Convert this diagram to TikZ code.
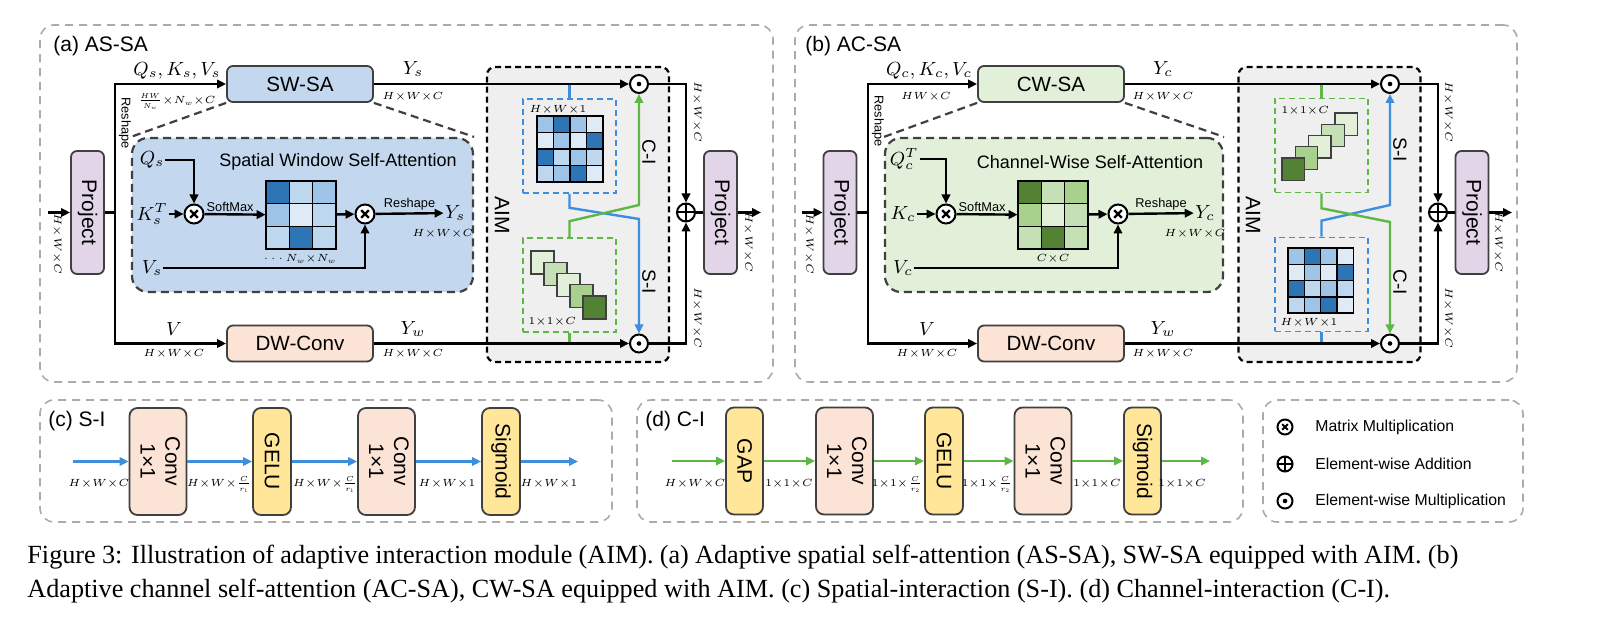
\RequirePackage{fix-cm}
\documentclass[tikz,border=0pt]{standalone}
\usepackage{graphicx}
\usepackage{fontspec}
\setmainfont{Liberation Sans}
\newfontfamily\capfont{Liberation Serif}
\usetikzlibrary{arrows.meta,calc}
\definecolor{pgray}{HTML}{ABABAB}
\definecolor{bgray}{HTML}{404040}
\definecolor{projfill}{HTML}{E1D5E7}
\definecolor{saBlue}{HTML}{C3D8EF}
\definecolor{saGreen}{HTML}{E2F0D9}
\definecolor{peach}{HTML}{FBE3D6}
\definecolor{yel}{HTML}{FFE699}
\definecolor{aimfill}{HTML}{EFEFEF}
\definecolor{lnBlue}{HTML}{3E8EDE}
\definecolor{lnGreen}{HTML}{5CB744}
\definecolor{bd}{HTML}{2E75B6}
\definecolor{bm}{HTML}{9DC3E6}
\definecolor{bl}{HTML}{BDD7EE}
\definecolor{bv}{HTML}{DEEBF7}
\definecolor{gd}{HTML}{548235}
\definecolor{gm}{HTML}{A9D18E}
\definecolor{gl}{HTML}{C5E0B4}
\definecolor{gv}{HTML}{E2F0D9}
\newcommand\HWC{$H{\times}W{\times}C$}
\begin{document}
\begin{tikzpicture}[x=0.5pt,y=-0.5pt,
 panel/.style={draw=pgray,line width=0.8pt,dash pattern=on 4pt off 3pt,rounded corners=7pt,inner sep=0pt},
 bx/.style={draw=bgray,line width=0.9pt,rounded corners=3pt,inner sep=0pt,align=center},
 proj/.style={bx,fill=projfill,minimum width=16.5pt,minimum height=61.5pt,font=\fontsize{10.5}{12}\selectfont},
 sabox/.style={bx,minimum width=73pt,minimum height=18pt,font=\fontsize{10.3}{12}\selectfont},
 conv/.style={bx,fill=peach,minimum width=28.5pt,minimum height=53.5pt,rounded corners=4pt,font=\fontsize{10.5}{12.5}\selectfont},
 yb/.style={bx,fill=yel,minimum width=19pt,minimum height=53.5pt,rounded corners=4pt,font=\fontsize{10.5}{12.5}\selectfont},
 flow/.style={line width=1.2pt,-{Triangle[length=4.5pt,width=4.2pt]}},
 wire/.style={line width=1.2pt},
 bflow/.style={flow,draw=lnBlue},
 gflow/.style={flow,draw=lnGreen},
 bwire/.style={wire,draw=lnBlue},
 gwire/.style={wire,draw=lnGreen},
 dim/.style={inner sep=0pt,font=\fontsize{5.2}{6}\selectfont},
 lab/.style={inner sep=0.5pt,font=\fontsize{9.5}{11}\selectfont},
 smt/.style={inner sep=0pt,font=\fontsize{6.4}{7.5}\selectfont},
 ttl/.style={inner sep=0pt,font=\fontsize{10.5}{12}\selectfont},
 lbl/.style={inner sep=0pt,font=\fontsize{9.5}{11}\selectfont},
 leg/.style={inner sep=0pt,font=\fontsize{7.9}{9}\selectfont},
 ibox/.style={draw=bgray,fill=#1,line width=1.1pt,dash pattern=on 4pt off 2.5pt,rounded corners=8pt,minimum width=170.5pt,minimum height=77pt,inner sep=0pt},
 aim/.style={draw=black,fill=aimfill,line width=1.1pt,dash pattern=on 3pt off 2pt,rounded corners=4pt,minimum width=91pt,minimum height=147.5pt,inner sep=0pt},
 mapbox/.style={draw=#1,line width=0.8pt,dash pattern=on 3pt off 2pt,minimum width=46.5pt,minimum height=47pt,inner sep=0pt},
 conn/.style={draw=bgray,line width=1.1pt,dash pattern=on 4pt off 2.5pt},
 mtx/.style={inner sep=0pt,minimum width=35pt,minimum height=34pt},
 sym/.style={circle,draw=black,fill=white,line width=1pt,inner sep=0pt,minimum size=#1},
 otm/.style={sym=9.5pt,path picture={\draw[black,line width=1.1pt] ([shift={(-1.9pt,-1.9pt)}]path picture bounding box.center) -- ([shift={(1.9pt,1.9pt)}]path picture bounding box.center) ([shift={(-1.9pt,1.9pt)}]path picture bounding box.center) -- ([shift={(1.9pt,-1.9pt)}]path picture bounding box.center);}},
 otmS/.style={sym=7.5pt,path picture={\draw[black,line width=1pt] ([shift={(-1.4pt,-1.4pt)}]path picture bounding box.center) -- ([shift={(1.4pt,1.4pt)}]path picture bounding box.center) ([shift={(-1.4pt,1.4pt)}]path picture bounding box.center) -- ([shift={(1.4pt,-1.4pt)}]path picture bounding box.center);}},
 opl/.style={sym=#1,path picture={\draw[black,line width=1pt] ([xshift=-9pt]path picture bounding box.center) -- ([xshift=9pt]path picture bounding box.center) ([yshift=-9pt]path picture bounding box.center) -- ([yshift=9pt]path picture bounding box.center);}},
 opl/.default=9pt,
 odt/.style={sym=#1,path picture={\fill[black] (path picture bounding box.center) circle (1.15pt);}},
 odt/.default=9pt
]
\fill[white] (0,0) rectangle (1602,641);
\useasboundingbox (0,0) rectangle (1602,641);

% ---------- panels ----------
\node[panel,minimum width=366.5pt,minimum height=178.5pt] (pa) at (406.5,203.5) {};
\node[panel,minimum width=361pt,minimum height=178.5pt] (pb) at (1156,203.5) {};
\node[panel,minimum width=286pt,minimum height=61pt] (pc) at (326,461) {};
\node[panel,minimum width=303pt,minimum height=61pt] (pd) at (940,461) {};
\node[panel,minimum width=130pt,minimum height=61pt] (pl) at (1393,461) {};
\node[ttl,anchor=base west] (ta) at (53,52) {(a) AS-SA};
\node[ttl,anchor=base west] (tb) at (805,52) {(b) AC-SA};
\node[ttl,anchor=base west] (tc) at (48,427) {(c) S-I};
\node[ttl,anchor=base west] (td) at (645,427) {(d) C-I};

% ---------- AIM boxes and inner boxes ----------
\node[aim] (aima) at (578,214.5) {};
\node[aim] (aimb) at (1329.5,214.5) {};
\node[ibox=saBlue] (ixa) at (302.5,215) {};
\node[ibox=saGreen,minimum width=169pt] (ixb) at (1054,215) {};

% ================= panel (a) =================
\node[proj] (pa1) at (87.5,212.5) {\rotatebox{-90}{Project}};
\coordinate (ina) at (48,212.5);
\draw[flow] (ina) -- (pa1);
\node[dim] (dina) at (57,244) {\rotatebox{-90}{\HWC}};
\coordinate (bra) at (115,212.5);
\node[sabox,fill=saBlue] (swa) at (300,84) {SW-SA};
\node[sabox,fill=peach] (dwa) at (300,343.5) {DW-Conv};
\draw[conn] (swa.south west) -- (ixa.north west);
\draw[conn] (swa.south east) -- (ixa.north east);
\draw[wire] (pa1) -- (bra);
\draw[flow] (bra) |- (swa);
\draw[flow] (bra) |- (dwa);
\node[lab] (qkva) at (177,71) {$Q_s, K_s, V_s$};
\node[dim] (dqa) at (177,102) {$\frac{HW}{N_w}{\times}N_w{\times}C$};
\node[smt] (rsa) at (125,123) {\rotatebox{-90}{Reshape}};
\node[lab] (va) at (174,329) {$V$};
\node[dim] (dva) at (174,354) {\HWC};
\node[odt] (ota) at (639,84) {};
\node[odt] (oba) at (639,343.5) {};
\node[mapbox=lnBlue] (sba) at (569.5,146) {};
\node[mapbox=lnGreen] (cba) at (569.5,285) {};
\draw[bwire] (sba.north) -- (sba.north |- ota);
\draw[gwire] (cba.south) -- (cba.south |- oba);
\draw[flow] (swa) -- (ota);
\draw[flow] (dwa) -- (oba);
\node[lab] (ysa) at (413,69) {$Y_s$};
\node[dim] (dysa) at (413,97) {\HWC};
\node[lab] (ywa) at (413,329) {$Y_w$};
\node[dim] (dywa) at (413,354) {\HWC};
\node[opl] (opa) at (686,212.5) {};
\draw[flow] (ota) -| (opa);
\draw[flow] (oba) -| (opa);
\node[proj] (pa2) at (720.5,212.5) {\rotatebox{-90}{Project}};
\draw[wire] (opa) -- (pa2);
\coordinate (outa) at (761,212.5);
\draw[flow] (pa2) -- (outa);
\node[dim] (d1a) at (697,112) {\rotatebox{-90}{\HWC}};
\node[dim] (d2a) at (697,318) {\rotatebox{-90}{\HWC}};
\node[dim] (d3a) at (748,242) {\rotatebox{-90}{\HWC}};
% AIM (a)
\node[ttl] (aimta) at (502,215) {\rotatebox{-90}{AIM}};
\foreach \row [count=\r from 0] in {{bm,bd,bm,bv},{bv,bm,bv,bd},{bd,bl,bm,bl},{bl,bm,bd,bv}}
  \foreach \c [count=\k from 0] in \row
    \draw[line width=0.7pt,fill=\c] ({537+16.5*\k},{116+16.5*\r}) rectangle ++(16.5,16.5);
\foreach \c [count=\i from 0] in {gv,gl,gv,gm,gd}
  \draw[line width=0.7pt,draw=bgray,fill=\c] ({531+13*\i},{251+11.25*\i}) rectangle ++(23,23);
\node[dim,anchor=west] (hw1a) at (529,110) {$H{\times}W{\times}1$};
\node[dim,anchor=west] (c1a) at (528,322) {$1{\times}1{\times}C$};
\draw[bflow] (sba.south) -- ++(0,14) -- (oba |- 0,219) -- (oba.north);
\draw[gflow] (cba.north) -- ++(0,-16) -- (ota |- 0,205) -- (ota.south);
\node[lbl] (cia) at (649,152) {\rotatebox{-90}{C-I}};
\node[lbl] (sia) at (649,282) {\rotatebox{-90}{S-I}};
% inner (a)
\node[inner sep=0pt,font=\fontsize{9}{11}\selectfont] (tia) at (338,162) {Spatial Window Self-Attention};
\node[lab] (qsa) at (152,160) {$Q_s$};
\node[lab] (ksa) at (152,214) {$K_s^T$};
\node[lab] (vsa) at (152,268) {$V_s$};
\node[otm] (ma1) at (194,214) {};
\node[mtx] (mata) at (301,215) {};
\foreach \row [count=\r from 0] in {{bd,bl,bm},{bm,bv,bl},{bl,bd,bl}}
  \foreach \c [count=\k from 0] in \row
    \draw[line width=0.7pt,fill=\c] ({266+23.33*\k},{181+22.67*\r}) rectangle ++(23.33,22.67);
\node[otm] (ma2) at (365,214) {};
\node[lab] (yia) at (455,213) {$Y_s$};
\node[dim] (dyia) at (443,234) {\HWC};
\node[dim] (nna) at (300,259) {$\cdots N_w{\times}N_w$};
\draw[flow] (qsa) -| (ma1);
\draw[flow] (ksa) -- (ma1);
\draw[flow] (ma1) -- node[smt,above=1pt,pos=0.42] (sma) {SoftMax} (mata);
\draw[flow] (mata) -- (ma2);
\draw[flow] (vsa) -| (ma2);
\draw[flow] (ma2) -- node[smt,above=1pt] (rha) {Reshape} (yia);

% ================= panel (b) =================
\node[proj] (pb1) at (840,212.5) {\rotatebox{-90}{Project}};
\coordinate (inb) at (802,212.5);
\draw[flow] (inb) -- (pb1);
\node[dim] (dinb) at (809,244) {\rotatebox{-90}{\HWC}};
\coordinate (brb) at (868,212.5);
\node[sabox,fill=saGreen] (cwb) at (1051,84) {CW-SA};
\node[sabox,fill=peach] (dwb) at (1051,343.5) {DW-Conv};
\draw[conn] (cwb.south west) -- (ixb.north west);
\draw[conn] (cwb.south east) -- (ixb.north east);
\draw[wire] (pb1) -- (brb);
\draw[flow] (brb) |- (cwb);
\draw[flow] (brb) |- (dwb);
\node[lab] (qkvb) at (929,71) {$Q_c, K_c, V_c$};
\node[dim] (dqb) at (926,97) {$HW{\times}C$};
\node[smt] (rsb) at (878,121) {\rotatebox{-90}{Reshape}};
\node[lab] (vb) at (927,329) {$V$};
\node[dim] (dvb) at (927,354) {\HWC};
\node[odt] (otb) at (1390,84) {};
\node[odt] (obb) at (1390,343.5) {};
\node[mapbox=lnGreen] (cbb) at (1321.5,145.5) {};
\node[mapbox=lnBlue] (sbb) at (1321.5,284.5) {};
\draw[gwire] (cbb.north) -- (cbb.north |- otb);
\draw[bwire] (sbb.south) -- (sbb.south |- obb);
\draw[flow] (cwb) -- (otb);
\draw[flow] (dwb) -- (obb);
\node[lab] (ycb) at (1163,69) {$Y_c$};
\node[dim] (dycb) at (1163,97) {\HWC};
\node[lab] (ywb) at (1163,329) {$Y_w$};
\node[dim] (dywb) at (1163,354) {\HWC};
\node[opl] (opb) at (1438,212.5) {};
\draw[flow] (otb) -| (opb);
\draw[flow] (obb) -| (opb);
\node[proj] (pb2) at (1472,212.5) {\rotatebox{-90}{Project}};
\draw[wire] (opb) -- (pb2);
\coordinate (outb) at (1512,212.5);
\draw[flow] (pb2) -- (outb);
\node[dim] (d1b) at (1448,112) {\rotatebox{-90}{\HWC}};
\node[dim] (d2b) at (1448,318) {\rotatebox{-90}{\HWC}};
\node[dim] (d3b) at (1498,242) {\rotatebox{-90}{\HWC}};
% AIM (b)
\node[ttl] (aimtb) at (1253,215) {\rotatebox{-90}{AIM}};
\foreach \row [count=\r from 0] in {{bm,bd,bm,bv},{bv,bm,bv,bd},{bd,bl,bm,bl},{bl,bm,bd,bv}}
  \foreach \c [count=\k from 0] in \row
    \draw[line width=0.7pt,fill=\c] ({1288+16.3*\k},{248+16.3*\r}) rectangle ++(16.3,16.3);
\foreach \c [count=\i from 0] in {gv,gl,gv,gm,gd}
  \draw[line width=0.7pt,draw=bgray,fill=\c] ({1335-13.25*\i},{113+11.25*\i}) rectangle ++(22.5,22.5);
\node[dim,anchor=west] (c1b) at (1281,111) {$1{\times}1{\times}C$};
\node[dim,anchor=west] (hw1b) at (1280,323) {$H{\times}W{\times}1$};
\draw[bflow] (sbb.north) -- ++(0,-16) -- (otb |- 0,205) -- (otb.south);
\draw[gflow] (cbb.south) -- ++(0,15) -- (obb |- 0,222) -- (obb.north);
\node[lbl] (sib) at (1400,150) {\rotatebox{-90}{S-I}};
\node[lbl] (cib) at (1400,282) {\rotatebox{-90}{C-I}};
% inner (b)
\node[inner sep=0pt,font=\fontsize{9}{11}\selectfont] (tib) at (1090,162) {Channel-Wise Self-Attention};
\node[lab] (qcb) at (904,159) {$Q_c^T$};
\node[lab] (kcb) at (903,214) {$K_c$};
\node[lab] (vcb) at (903,268) {$V_c$};
\node[otm] (mb1) at (946,214) {};
\node[mtx] (matb) at (1053,215) {};
\foreach \row [count=\r from 0] in {{gd,gl,gm},{gm,gv,gl},{gl,gd,gl}}
  \foreach \c [count=\k from 0] in \row
    \draw[line width=0.7pt,fill=\c] ({1018+23.33*\k},{181+22.67*\r}) rectangle ++(23.33,22.67);
\node[otm] (mb2) at (1118,214) {};
\node[lab] (yib) at (1205,213) {$Y_c$};
\node[dim] (dyib) at (1195,234) {\HWC};
\node[dim] (ccb) at (1053,259) {$C{\times}C$};
\draw[flow] (qcb) -| (mb1);
\draw[flow] (kcb) -- (mb1);
\draw[flow] (mb1) -- node[smt,above=1pt,pos=0.42] (smb) {SoftMax} (matb);
\draw[flow] (matb) -- (mb2);
\draw[flow] (vcb) -| (mb2);
\draw[flow] (mb2) -- node[smt,above=1pt] (rhb) {Reshape} (yib);

% ================= panel (c) =================
\node[conv] (c1) at (158,461.5) {\rotatebox{-90}{\begin{tabular}{@{}c@{}}Conv\\1×1\end{tabular}}};
\node[yb] (c2) at (272,461.5) {\rotatebox{-90}{GELU}};
\node[conv] (c3) at (386.5,461.5) {\rotatebox{-90}{\begin{tabular}{@{}c@{}}Conv\\1×1\end{tabular}}};
\node[yb] (c4) at (501,461.5) {\rotatebox{-90}{Sigmoid}};
\coordinate (cin) at (73,461.5);
\coordinate (cout) at (578,461.5);
\draw[bflow] (cin) -- (c1);
\draw[bflow] (c1) -- (c2);
\draw[bflow] (c2) -- (c3);
\draw[bflow] (c3) -- (c4);
\draw[bflow] (c4) -- (cout);
\node[dim] (cd1) at (99,484) {\HWC};
\node[dim] (cd2) at (219,485) {$H{\times}W{\times}\frac{C}{r_1}$};
\node[dim] (cd3) at (325,485) {$H{\times}W{\times}\frac{C}{r_1}$};
\node[dim] (cd4) at (447,484) {$H{\times}W{\times}1$};
\node[dim] (cd5) at (549,484) {$H{\times}W{\times}1$};

% ================= panel (d) =================
\node[yb,minimum width=18.5pt] (e1) at (744.5,461) {\rotatebox{-90}{GAP}};
\node[conv] (e2) at (844.5,461) {\rotatebox{-90}{\begin{tabular}{@{}c@{}}Conv\\1×1\end{tabular}}};
\node[yb] (e3) at (944,461) {\rotatebox{-90}{GELU}};
\node[conv] (e4) at (1043,461) {\rotatebox{-90}{\begin{tabular}{@{}c@{}}Conv\\1×1\end{tabular}}};
\node[yb,minimum width=18.5pt] (e5) at (1142.5,461) {\rotatebox{-90}{Sigmoid}};
\coordinate (ein) at (672,461);
\coordinate (eout) at (1210,461);
\draw[gflow] (ein) -- (e1);
\draw[gflow] (e1) -- (e2);
\draw[gflow] (e2) -- (e3);
\draw[gflow] (e3) -- (e4);
\draw[gflow] (e4) -- (e5);
\draw[gflow] (e5) -- (eout);
\node[dim] (ed1) at (695,484) {\HWC};
\node[dim] (ed2) at (789,484) {$1{\times}1{\times}C$};
\node[dim] (ed3) at (897,485) {$1{\times}1{\times}\frac{C}{r_2}$};
\node[dim] (ed4) at (987,485) {$1{\times}1{\times}\frac{C}{r_2}$};
\node[dim] (ed5) at (1097,484) {$1{\times}1{\times}C$};
\node[dim] (ed6) at (1182,484) {$1{\times}1{\times}C$};

% ================= legend =================
\node[otmS] (lg1) at (1285,427) {};
\node[opl=7.5pt] (lg2) at (1285,464) {};
\node[odt=7.5pt] (lg3) at (1285,501) {};
\node[leg,anchor=west] (lt1) at (1315,427) {Matrix Multiplication};
\node[leg,anchor=west] (lt2) at (1315,464) {Element-wise Addition};
\node[leg,anchor=west] (lt3) at (1315,501) {Element-wise Multiplication};

% ================= caption =================
\node[anchor=base west,inner sep=0pt,font=\capfont\fontsize{13.1}{16}\selectfont] (cap1) at (27,564)
 {\makebox[715.5pt][s]{Figure 3: Illustration of adaptive interaction module (AIM). (a) Adaptive spatial self-attention (AS-SA), SW-SA equipped with AIM. (b)}};
\node[anchor=base west,inner sep=0pt,font=\capfont\fontsize{13.1}{16}\selectfont] (cap2) at (27,597)
 {Adaptive channel self-attention (AC-SA), CW-SA equipped with AIM. (c) Spatial-interaction (S-I). (d) Channel-interaction (C-I).};
\end{tikzpicture}
\end{document}
